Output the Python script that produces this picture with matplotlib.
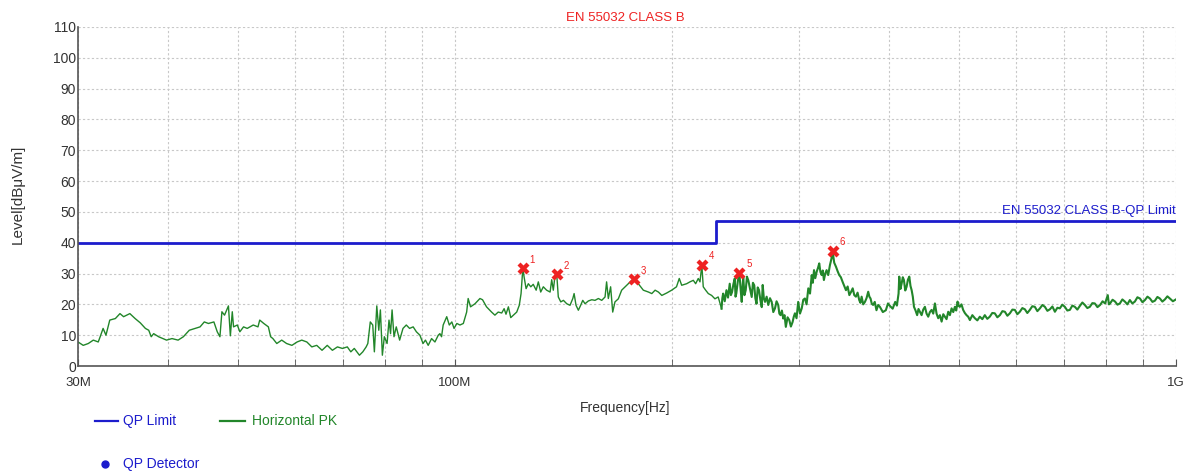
import matplotlib
matplotlib.use('Agg')
import matplotlib.pyplot as plt
from matplotlib.lines import Line2D
from matplotlib.ticker import FixedLocator, NullFormatter

plt.rcParams['font.family'] = ['Liberation Sans', 'DejaVu Sans']

# limite QP (EN 55032 classe B, 3 m)
limite_freq = [30, 230, 1000]
limite_nivel = [40, 47, 47]

# varredura de pico, polarização horizontal (MHz, dBuV/m) - faixa baixa
pk_freq_baixa = [
    30.0, 30.5, 31.0, 31.5, 32.0, 32.2, 32.5, 32.8, 33.2, 33.8,
    34.3, 34.7, 35.4, 36.0, 36.6, 37.2, 37.6, 37.9, 38.2, 38.8,
    39.8, 40.5, 41.3, 42.0, 42.8, 43.6, 44.3, 44.9, 45.5, 46.3,
    46.8, 47.2, 47.5, 47.9, 48.5, 48.8, 49.1, 49.3, 49.9, 50.3,
    50.9, 51.5, 52.5, 53.3, 53.6, 54.3, 55.1, 55.5, 55.9, 56.6,
    57.5, 58.4, 59.4, 60.4, 61.3, 62.3, 63.3, 64.3, 65.4, 66.5,
    67.6, 68.7, 69.8, 70.9, 71.7, 72.5, 73.7, 74.5, 75.3, 75.7,
    76.3, 76.9, 77.3, 77.9, 78.4, 78.8, 79.3, 79.8, 80.5, 81.0,
    81.4, 81.8, 82.3, 82.9, 83.8, 84.7, 85.6, 86.5, 87.5, 88.4,
    89.4, 90.3, 91.0, 91.8, 92.8, 93.8, 94.8, 95.3, 95.8, 96.3,
    97.4, 98.2, 99.0, 99.7, 100.6, 101.6, 102.7,
    103.8, 104.3, 105.1, 106.6, 108.3, 109.2, 110.6, 112.4, 113.6, 114.8,
    116.1, 117.0, 117.7, 118.6, 119.5, 120.5, 121.8, 122.8, 123.5, 124.2,
    124.7, 125.5, 126.4, 127.4, 128.4, 129.6, 130.5, 131.5, 132.6, 134.0,
    135.5, 136.2, 136.9, 137.6, 138.4, 139.1, 140.2, 141.4, 142.9, 144.4,
    145.7, 146.3, 147.2, 148.3, 149.4, 150.4, 151.5, 153.1, 154.8, 156.4,
    158.1, 159.8, 161.5, 162.3, 163.2, 164.4, 165.5, 166.7,
    168.5, 170.3, 173.1, 175.9, 177.0, 179.6, 182.5, 185.5, 187.5, 189.5,
    191.5, 193.6, 196.7, 199.8, 202.9, 204.7, 206.3, 209.6, 211.8, 214.1,
    215.7, 217.5, 218.7, 220.0, 221.0, 222.7, 224.6, 227.0, 229.4, 231.8,
]
pk_nivel_baixa = [
    7.8, 6.7, 7.3, 8.4, 7.8, 9.5, 12.2, 10.0, 14.9, 15.4,
    17.0, 16.0, 17.0, 15.4, 14.0, 12.2, 11.6, 9.5, 10.5, 9.5,
    8.4, 8.9, 8.4, 9.5, 11.6, 12.2, 12.7, 14.3, 13.8, 14.3,
    11.1, 9.5, 17.6, 16.5, 19.5, 9.8, 17.6, 12.7, 13.3, 11.1,
    12.7, 12.2, 13.3, 12.7, 14.9, 13.8, 12.7, 9.5, 8.9, 7.3,
    8.4, 7.3, 6.7, 7.8, 8.4, 7.8, 6.2, 6.7, 5.1, 6.7,
    5.1, 6.2, 5.7, 6.2, 4.6, 5.7, 3.5, 4.6, 6.2, 7.3,
    14.3, 13.3, 4.6, 19.5, 11.6, 18.2, 3.5, 9.5, 7.3, 14.9,
    10.5, 18.2, 9.5, 12.7, 8.4, 12.2, 13.3, 12.2, 12.7, 11.1,
    10.0, 7.3, 8.4, 6.7, 8.9, 7.8, 10.0, 10.5, 9.5, 13.3,
    16.0, 13.3, 14.3, 12.2, 13.8, 13.3, 13.8,
    17.5, 21.9, 19.2, 20.2, 21.9, 21.5, 19.2, 17.5, 16.5, 17.5,
    17.2, 18.6, 16.8, 19.2, 15.7, 16.5, 17.5, 19.7, 23.5, 31.7,
    28.9, 25.1, 26.7, 25.7, 26.5, 24.6, 27.3, 24.0, 25.7, 24.6,
    24.0, 28.0, 24.6, 29.0, 29.8, 22.4, 20.8, 21.3, 20.2, 19.7,
    21.9, 23.5, 19.7, 18.1, 19.7, 21.3, 20.2, 21.1, 21.5, 21.3,
    21.9, 21.3, 22.4, 27.3, 21.9, 25.7, 17.5, 20.8,
    21.8, 24.6, 26.2, 27.8, 28.1, 26.7, 24.6, 24.0, 23.5, 24.6,
    24.0, 22.9, 23.7, 24.6, 25.7, 28.4, 26.2, 26.7, 27.3, 27.8,
    26.7, 28.4, 27.3, 32.8, 25.7, 24.6, 23.5, 22.9, 21.8, 22.4,
]

# faixa alta (acima de 230 MHz), mais ruidosa
pk_freq_alta = [
    234.3, 234.9, 235.5, 236.7, 238.0, 239.2, 240.5, 241.4, 242.3, 243.3,
    244.4, 245.0, 245.6, 246.8, 248.0, 249.0, 249.9, 250.5, 251.1, 252.1,
    253.1, 254.1, 255.2, 256.6, 258.0, 259.0, 260.1, 261.0, 262.0, 263.0,
    264.1, 265.2, 266.4, 267.2, 268.2, 269.2, 270.6, 272.0, 273.5, 275.0,
    276.4, 277.9, 279.3, 280.8, 281.8, 282.9, 284.1, 285.3, 286.5, 287.7,
    289.3, 290.9, 292.4, 294.0, 295.1, 296.2, 297.7, 299.3, 301.0, 302.7,
    304.2, 305.8, 307.4, 309.1, 310.8, 312.5, 313.6, 314.8, 316.1, 317.5,
    318.8, 320.1, 321.3, 322.6, 323.7, 324.9, 326.3, 327.7, 329.4, 331.2,
    332.9, 334.0, 335.8, 337.7, 339.4, 341.2, 343.0, 344.9, 346.7, 348.6,
    350.5, 352.4, 354.3, 356.2, 358.0, 359.9, 361.8, 363.7, 365.1, 366.5,
    368.4, 370.4, 372.3, 374.3, 375.7, 377.1, 378.6, 380.2, 382.2, 384.3,
    386.4, 388.5, 392.2, 396.0, 398.7, 401.5, 404.7, 408.0, 410.2, 412.4,
    413.3, 414.9, 416.5, 418.0, 419.5, 421.3, 423.1, 424.9, 426.8, 428.4,
    430.0, 431.6, 433.2, 435.4, 437.6, 439.5, 441.5,
    443.9, 446.2, 448.6, 451.0, 453.4, 455.8, 458.3, 460.7, 463.2, 465.6,
    468.1, 470.6, 473.2, 475.7, 478.2, 480.7, 483.3, 485.9, 488.5, 491.1,
    493.7, 495.8, 497.9, 499.7, 501.6, 504.2, 506.9, 509.6, 512.4, 515.1,
    517.9, 522.0, 526.2, 530.4, 534.6, 538.9, 543.2, 547.5, 551.9, 556.3,
    560.8, 565.4, 570.0, 574.6, 579.2, 583.8, 588.5, 593.2, 598.0, 602.7,
    607.5, 612.4, 617.3, 622.2, 627.2, 632.2, 637.3, 642.5, 647.7, 652.9,
    658.1, 663.4, 668.7, 674.1, 679.5, 684.9, 690.3, 695.8, 701.4, 707.0,
    712.7, 718.4, 724.2, 730.0, 735.9, 741.8, 747.7, 753.7, 759.7, 765.8,
    771.9, 778.4, 785.0, 791.3, 797.6, 804.5, 807.4, 810.4, 816.9, 823.5,
    829.8, 836.2, 842.9, 849.7, 856.5, 863.3, 870.2, 877.2, 884.4, 891.6,
    898.7, 905.9, 913.2, 920.5, 927.9, 935.3, 942.7, 950.2, 957.8, 965.5,
    973.2, 981.0, 990.5, 1000.0,
]
pk_nivel_alta = [
    18.6, 22.0, 23.5, 21.0, 24.6, 22.2, 26.7, 23.0, 24.0, 26.5,
    28.4, 22.5, 23.5, 27.5, 30.3, 25.0, 20.8, 25.5, 28.9, 23.0,
    24.6, 29.0, 27.8, 25.0, 22.4, 27.0, 26.2, 22.0, 20.2, 25.5,
    24.6, 21.5, 19.1, 26.3, 22.0, 20.8, 22.5, 19.8, 22.0, 20.8,
    17.5, 18.7, 21.0, 19.8, 17.0, 16.5, 18.0, 15.4, 16.5, 12.7,
    15.8, 14.9, 12.8, 14.3, 16.0, 17.1, 15.5, 20.8, 17.0, 18.7,
    21.5, 21.9, 20.0, 25.2, 23.5, 29.5, 27.0, 31.1, 28.5, 30.6,
    31.8, 33.3, 30.5, 29.5, 31.0, 27.9, 30.0, 31.1, 29.5, 32.7,
    34.9, 37.3, 33.5, 32.2, 30.8, 29.5, 28.8, 27.3, 26.0, 24.6,
    25.8, 23.0, 24.0, 25.2, 23.0, 22.5, 23.8, 21.4, 20.5, 22.5,
    20.0, 20.8, 22.0, 24.1, 22.5, 21.9, 20.2, 19.8, 20.8, 18.1,
    19.8, 19.2, 17.5, 18.1, 20.3, 19.4, 18.6, 20.8, 19.6, 23.5,
    29.0, 25.0, 26.8, 28.8, 27.9, 24.5, 25.7, 28.0, 29.0, 26.0,
    24.6, 22.5, 19.2, 18.0, 16.5, 18.5, 17.6,
    16.5, 18.3, 19.2, 17.0, 16.0, 17.5, 18.2, 17.0, 20.3, 17.0,
    15.5, 16.5, 14.4, 16.8, 16.0, 15.2, 17.6, 16.5, 18.7, 17.5,
    19.2, 18.0, 20.9, 19.5, 19.2, 20.0, 18.2, 17.2, 16.5, 16.0,
    14.9, 16.5, 15.5, 14.8, 16.0, 15.2, 16.5, 15.3, 16.0, 17.2,
    17.1, 15.8, 16.5, 17.8, 17.6, 16.3, 17.1, 18.3, 18.2, 16.8,
    17.6, 18.8, 18.4, 17.2, 18.2, 19.4, 19.2, 17.8, 18.7, 19.8,
    19.2, 17.9, 18.4, 19.3, 17.6, 18.9, 18.7, 19.9, 19.2, 18.0,
    18.2, 19.6, 19.2, 18.3, 19.5, 20.6, 19.8, 18.8, 19.2, 20.4,
    20.3, 19.1, 19.8, 21.0, 20.3, 23.0, 20.0, 20.3, 21.5, 20.9,
    19.9, 20.3, 21.6, 20.9, 20.0, 21.4, 20.3, 20.9, 22.3, 21.9,
    20.7, 21.4, 22.5, 21.9, 20.8, 21.2, 22.4, 21.9, 20.9, 21.6,
    22.6, 21.9, 21.0, 21.6,
]

# picos marcados
marca_freq = [124.2, 138.4, 177.0, 220.0, 248.0, 334.0]
marca_nivel = [31.7, 29.8, 28.1, 32.8, 30.3, 37.3]
marca_nome = ['1', '2', '3', '4', '5', '6']

grade_freq = [40, 50, 60, 70, 80, 90, 100, 200, 300, 400, 500, 600, 700, 800, 900]
rotulo_freq = [30, 100, 1000]
rotulo_texto = ['30M', '100M', '1G']

AZUL = '#1c1ccc'
VERDE = '#22862a'
VERMELHO = '#ee2222'
LARGURA, ALTURA = 1195, 473


def px(x, y):
    # posição em pixels (a partir do canto superior esquerdo) para coordenadas da figura
    return x / LARGURA, 1 - y / ALTURA


def desenhar_legenda(fig):
    x0, y0 = px(95, 421)
    x1, _ = px(118, 421)
    fig.add_artist(Line2D([x0, x1], [y0, y0], color=AZUL, lw=1.6, transform=fig.transFigure))
    fig.text(*px(123, 421), 'QP Limit', color=AZUL, fontsize=10, va='center')

    x0, y0 = px(220, 421)
    x1, _ = px(245, 421)
    fig.add_artist(Line2D([x0, x1], [y0, y0], color=VERDE, lw=1.6, transform=fig.transFigure))
    fig.text(*px(252, 421), 'Horizontal PK', color=VERDE, fontsize=10, va='center')

    x0, y0 = px(105, 464)
    fig.add_artist(Line2D([x0], [y0], color=AZUL, marker='o', ms=5, lw=0,
                          transform=fig.transFigure))
    fig.text(*px(123, 464), 'QP Detector', color=AZUL, fontsize=10, va='center')


def gerar_grafico():
    fig = plt.figure(figsize=(LARGURA / 100, ALTURA / 100), dpi=100)
    ax = fig.add_axes([0.0653, 0.2262, 0.9187, 0.7168])

    ax.plot(limite_freq, limite_nivel, drawstyle='steps-post', color=AZUL, lw=2)
    # faixa alta com traço mais grosso, como a varredura densa do analisador
    ax.plot(pk_freq_baixa + pk_freq_alta[:1], pk_nivel_baixa + pk_nivel_alta[:1],
            color=VERDE, lw=1.0)
    ax.plot(pk_freq_alta, pk_nivel_alta, color=VERDE, lw=1.5)
    ax.plot(marca_freq, marca_nivel, 'X', color=VERMELHO, ms=9, mec='none')
    for f, n, nome in zip(marca_freq, marca_nivel, marca_nome):
        ax.annotate(nome, (f, n), xytext=(5, 4), textcoords='offset points',
                    color=VERMELHO, fontsize=7)

    ax.set_xscale('log')
    ax.set_xlim(30, 1000)
    ax.set_ylim(0, 110)
    ax.set_yticks(range(0, 111, 10))
    ax.xaxis.set_major_locator(FixedLocator(rotulo_freq))
    ax.set_xticklabels(rotulo_texto)
    ax.xaxis.set_minor_locator(FixedLocator(grade_freq))
    ax.xaxis.set_minor_formatter(NullFormatter())

    ax.grid(True, which='both', axis='x', color='#c8c8c8', ls=(0, (2, 2)), lw=0.8)
    ax.grid(True, which='major', axis='y', color='#c8c8c8', ls=(0, (2, 2)), lw=0.8)

    for lado in ['top', 'right']:
        ax.spines[lado].set_visible(False)
    for lado in ['left', 'bottom']:
        ax.spines[lado].set_color('#555555')
        ax.spines[lado].set_linewidth(1.2)

    ax.tick_params(axis='x', which='both', direction='in', length=5, color='#555555',
                   labelsize=9.5, labelcolor='#333333', pad=8)
    ax.tick_params(axis='y', length=0, labelsize=10, labelcolor='#333333', pad=1.5)

    ax.text(1000, 48.5, 'EN 55032 CLASS B-QP Limit', color=AZUL, fontsize=9.5,
            ha='right', va='bottom')
    fig.text(0.523, 0.962, 'EN 55032 CLASS B', color=VERMELHO, fontsize=9.5,
             ha='center', va='center')
    fig.text(0.523, 0.137, 'Frequency[Hz]', color='#333333', fontsize=10,
             ha='center', va='center')
    fig.text(0.015, 0.59, 'Level[dBμV/m]', color='#333333', fontsize=11,
             rotation=90, ha='center', va='center')

    desenhar_legenda(fig)

    fig.savefig('out.png', dpi=100)


def main():
    gerar_grafico()


if __name__ == '__main__':
    main()
